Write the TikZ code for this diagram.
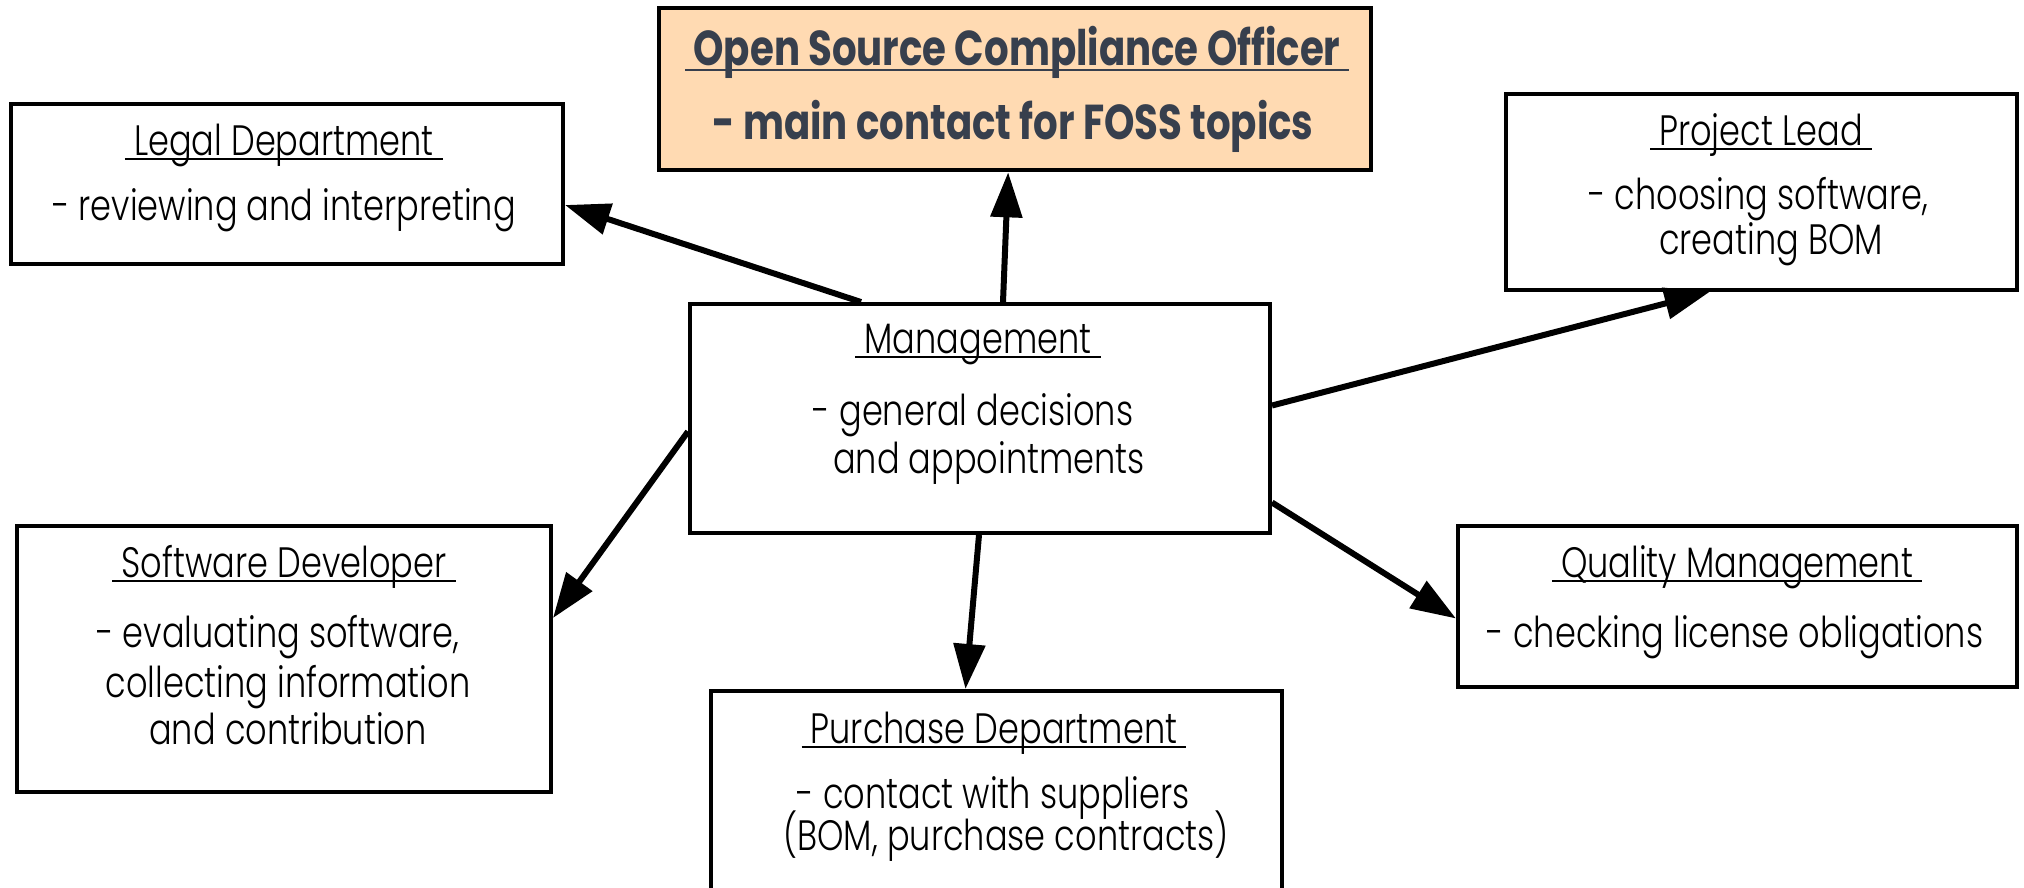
\documentclass[tikz,border=0pt]{standalone}
\usepackage{fontspec}
\setmainfont{Poppins}[FakeStretch=0.79]
\newfontfamily\lightfont{Poppins Light}[FakeStretch=0.79]
\usetikzlibrary{arrows.meta,calc}
\definecolor{peach}{RGB}{255,218,178}
\definecolor{slate}{RGB}{55,63,77}
\newcommand\ulx[1]{\setbox0\hbox{\ #1\ }\rlap{\rule[-0.12em]{\wd0}{0.045em}}\box0}
\begin{document}
\begin{tikzpicture}[x=1pt,y=-1pt,
  box/.style={draw, line width=4pt, rectangle, inner sep=0pt, anchor=north west},
  body/.style={font=\lightfont\fontsize{42.5}{48}\selectfont, anchor=base, inner sep=0pt},
  head/.style={font=\fontsize{49}{56}\selectfont\bfseries, text=slate, anchor=base, inner sep=0pt},
  arr/.style={line width=6pt, -{Triangle[length=45pt,width=31pt]}}]
\useasboundingbox (0,0) rectangle (2024,887);

% boxes
\node[box, fill=peach, line width=4.3pt, minimum width=712pt, minimum height=162pt] (officer) at (657,6) {};
\node[box, minimum width=552pt, minimum height=160pt] (legal) at (9,102) {};
\node[box, minimum width=511pt, minimum height=196pt] (project) at (1504,92) {};
\node[box, minimum width=580pt, minimum height=229pt] (mgmt) at (688,302) {};
\node[box, minimum width=534pt, minimum height=266pt] (software) at (15,524) {};
\node[box, minimum width=559pt, minimum height=161pt] (quality) at (1456,524) {};
\node[box, minimum width=571pt, minimum height=260pt] (purchase) at (709,689) {};

% texts
\node[head] (officerT) at (1017,65) {\ulx{Open Source Compliance Officer}};
\node[head] (officerB) at (1013,139) {- main contact for FOSS topics};

\node[body] (legalT) at (284,155) {\ulx{Legal Department}};
\node[body] (legalB) at (284,220) {- reviewing and interpreting};

\node[body] (projectT) at (1761,145) {\ulx{Project Lead}};
\node[body] (projectB1) at (1758,209) {- choosing software,};
\node[body] (projectB2) at (1771,254) {creating BOM};

\node[body] (mgmtT) at (978,353) {\ulx{Management}};
\node[body] (mgmtB1) at (973,425) {- general decisions};
\node[body] (mgmtB2) at (989,473) {and appointments};

\node[body] (softwareT) at (284,577) {\ulx{Software Developer}};
\node[body] (softwareB1) at (278,647) {- evaluating software,};
\node[body] (softwareB2) at (288,697) {collecting information};
\node[body] (softwareB3) at (288,744) {and contribution};

\node[body] (qualityT) at (1737,577) {\ulx{Quality Management}};
\node[body] (qualityB) at (1735,647) {- checking license obligations};

\node[body] (purchaseT) at (994,743) {\ulx{Purchase Department}};
\node[body] (purchaseB1) at (993,808) {- contact with suppliers};
\node[body] (purchaseB2) at (1006,850) {(BOM, purchase contracts)};

% connectors
\draw[arr] ([xshift=173pt]mgmt.north west) -- ([yshift=-21pt]legal.east);
\draw[arr] ([xshift=315pt]mgmt.north west) -- ([xshift=-7pt]officer.south);
\draw[arr] ([yshift=13pt]mgmt.east) -- ([xshift=-52pt]project.south);
\draw[arr] ([yshift=-13pt]mgmt.west) -- ([yshift=41pt]software.east);
\draw[arr] ([yshift=-84pt]mgmt.east) -- ([yshift=-12pt]quality.west);
\draw[arr] ([xshift=-1pt]mgmt.south) -- ([xshift=-31pt]purchase.north);
\end{tikzpicture}
\end{document}
